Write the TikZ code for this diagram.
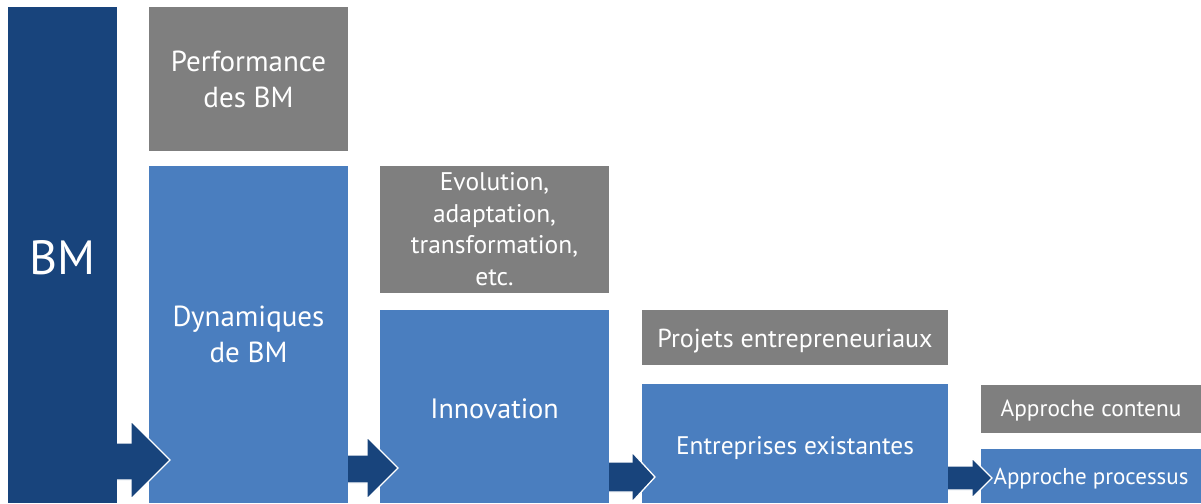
\documentclass[tikz,border=0pt]{standalone}
\usepackage{fontspec}
\setmainfont{PT Sans}
\definecolor{bmdark}{RGB}{24,68,124}
\definecolor{bmblue}{RGB}{74,126,191}
\definecolor{bmgray}{RGB}{127,127,127}
\newcommand{\lowered}[2]{\raisebox{-#1}[\height][\depth]{#2}}
\newcommand{\lines}[1]{\begin{tabular}{@{}c@{}}#1\end{tabular}}
\tikzset{
  box/.style={inner sep=0pt, outer sep=0pt, anchor=north west, text=white, align=center},
  darkbox/.style={box, fill=bmdark},
  bluebox/.style={box, fill=bmblue},
  graybox/.style={box, fill=bmgray},
  bigtxt/.style={font=\fontsize{29}{36}\selectfont},
  midtxt/.style={font=\fontsize{25.5}{31.5}\selectfont},
  arrfill/.style={fill=bmdark},
  arrline/.style={draw=white, line width=1.3pt, line join=miter}
}
\begin{document}
\begin{tikzpicture}[x=1pt,y=-1pt]
\useasboundingbox (0,0) rectangle (1201,503);
% blue boxes
\node[bluebox, minimum width=199pt, minimum height=337pt, bigtxt] (dyn) at (149,166) {\lowered{3pt}{\lines{Dynamiques\\de BM}}};
\node[bluebox, minimum width=229pt, minimum height=193pt, font=\fontsize{28}{34}\selectfont] (inno) at (380,310) {\lowered{2pt}{Innovation}};
\node[bluebox, minimum width=306pt, minimum height=119pt, font=\fontsize{25.4}{30}\selectfont] (entr) at (642,384) {\lowered{5pt}{Entreprises existantes}};
\node[bluebox, minimum width=220pt, minimum height=54pt, font=\fontsize{23}{28}\selectfont] (proc) at (981,449) {\lowered{3pt}{Approche processus}};
% gray boxes
\node[graybox, minimum width=199pt, minimum height=144pt, bigtxt] (perf) at (149,7) {\lowered{3pt}{\lines{Performance\\des BM}}};
\node[graybox, minimum width=229pt, minimum height=127pt, midtxt] (evol) at (380,166) {\lowered{2pt}{\lines{Evolution,\\adaptation,\\transformation,\\etc.}}};
\node[graybox, minimum width=306pt, minimum height=55pt, font=\fontsize{26}{30}\selectfont] (proj) at (642,310) {\lowered{4pt}{Projets entrepreneuriaux}};
\node[graybox, minimum width=220pt, minimum height=48pt, font=\fontsize{23.3}{28}\selectfont] (cont) at (981,385) {\lowered{2pt}{Approche contenu}};
% arrows
\fill[arrfill] (117,443) -- (131,443) -- (131,421) -- (170,460) -- (131,499) -- (131,480) -- (117,480) -- cycle;
\draw[arrline] (117,443) -- (131,443) -- (131,421) -- (170,460) -- (131,499) -- (131,480) -- (117,480);
\fill[arrfill] (348,455) -- (367,455) -- (367,437) -- (398,468) -- (367,499) -- (367,483) -- (348,483) -- cycle;
\draw[arrline] (348,455) -- (367,455) -- (367,437) -- (398,468) -- (367,499) -- (367,483) -- (348,483);
\fill[arrfill] (609,462) -- (632,462) -- (632,452) -- (655,477) -- (632,502) -- (632,492) -- (609,492) -- cycle;
\draw[arrline] (609,462) -- (632,462) -- (632,452) -- (655,477) -- (632,502) -- (632,492) -- (609,492);
\fill[arrfill] (948,466) -- (972,466) -- (972,458) -- (992,478) -- (972,498) -- (972,490) -- (948,490) -- cycle;
\draw[arrline] (948,466) -- (972,466) -- (972,458) -- (992,478) -- (972,498) -- (972,490) -- (948,490);
% BM box
\node[darkbox, minimum width=109pt, minimum height=496pt, font=\fontsize{48}{54}\selectfont] (bm) at (8,7) {\lowered{3pt}{BM}};
\end{tikzpicture}
\end{document}
